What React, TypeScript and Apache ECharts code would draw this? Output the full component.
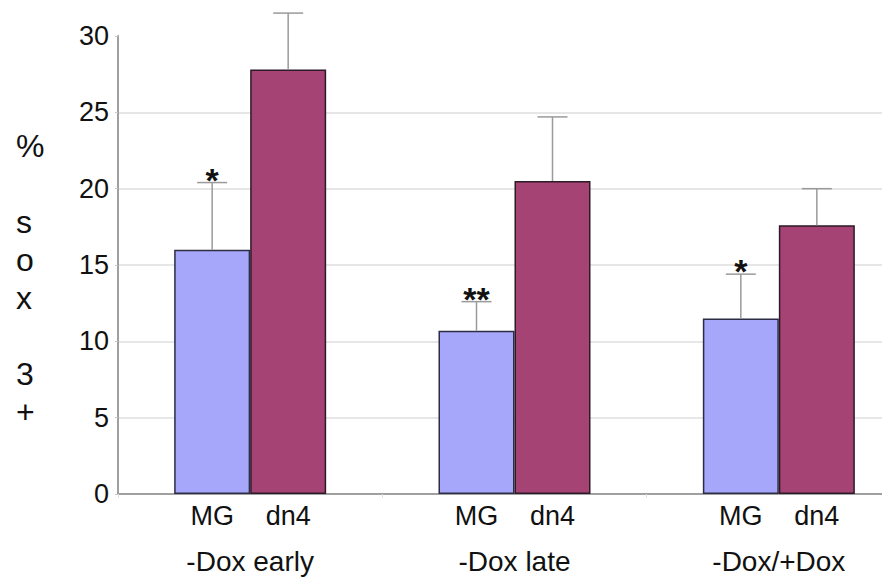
import React, { useEffect, useRef } from "react";
import * as echarts from "echarts";

const groups = ["-Dox early", "-Dox late", "-Dox/+Dox"];
const mgValues = [16.0, 10.7, 11.5];
const mgErrTop = [20.4, 12.6, 14.4];
const dn4Values = [27.8, 20.5, 17.6];
const dn4ErrTop = [31.5, 24.7, 20.0];
const mgSig = ["*", "**", "*"];
const dn4Sig = ["", "", ""];
const yTicks = [0, 5, 10, 15, 20, 25, 30];
const yTitle = "%\n\ns\no\nx\n\n3\n+";

const FONT = "'Liberation Sans', Arial, Helvetica, sans-serif";
const BAR_W = 76;

function errRenderer(offset: number, sigs: string[]) {
  return (params: any, api: any) => {
    const base = api.coord([api.value(0), api.value(1)]);
    const top = api.coord([api.value(0), api.value(2)]);
    const x = base[0] + offset;
    const stroke = { stroke: "#9a9a9a", lineWidth: 1.5 };
    const children: any[] = [
      { type: "line", shape: { x1: x, y1: base[1], x2: x, y2: top[1] }, style: stroke },
      { type: "line", shape: { x1: x - 15, y1: top[1], x2: x + 15, y2: top[1] }, style: stroke },
    ];
    const s = sigs[params.dataIndex];
    if (s) {
      children.push({
        type: "text",
        style: {
          text: s,
          x: x,
          y: top[1] - 3,
          align: "center",
          verticalAlign: "middle",
          font: `bold 34px ${FONT}`,
          fill: "#111",
        },
      });
    }
    return { type: "group", children };
  };
}

export default function App() {
  const ref = useRef<HTMLDivElement>(null);
  useEffect(() => {
    if (!ref.current) return;
    const chart = echarts.init(ref.current, undefined, { renderer: "svg" });
    chart.setOption({
      animation: false,
      backgroundColor: "#ffffff",
      grid: { left: 118, right: 0, top: 36, bottom: 92 },
      xAxis: {
        type: "category",
        data: groups,
        axisLine: { lineStyle: { color: "#a0a0a0", width: 2 } },
        axisTick: { show: true, length: 4, lineStyle: { color: "#e0e0e0" } },
        axisLabel: {
          margin: 53,
          fontSize: 28,
          fontFamily: FONT,
          color: "#111",
        },
        splitLine: { show: false },
      },
      yAxis: {
        type: "value",
        min: yTicks[0],
        max: yTicks[yTicks.length - 1],
        interval: 5,
        axisLine: { show: true, lineStyle: { color: "#a0a0a0", width: 2 } },
        axisTick: { show: true, length: 3, lineStyle: { color: "#c8c8c8" } },
        axisLabel: { margin: 9, fontSize: 27, fontFamily: FONT, color: "#111" },
        splitLine: {
          show: true,
          showMaxLine: false,
          lineStyle: { color: "#e6e6e6", width: 2 },
        },
      },
      graphic: [
        {
          type: "text",
          left: 16,
          top: 127,
          style: {
            text: yTitle,
            font: `32px ${FONT}`,
            lineHeight: 38,
            align: "center",
            fill: "#111",
            width: 28,
          },
        },
      ],
      series: [
        {
          name: "MG",
          type: "bar",
          data: mgValues,
          barWidth: BAR_W,
          barGap: "0%",
          itemStyle: { color: "#a6a6fa", borderColor: "#2c2c44", borderWidth: 1.5 },
          label: {
            show: true,
            position: "bottom",
            distance: 8,
            formatter: "{a}",
            fontSize: 27,
            fontFamily: FONT,
            color: "#111",
          },
        },
        {
          name: "dn4",
          type: "bar",
          data: dn4Values,
          barWidth: BAR_W,
          barGap: "0%",
          itemStyle: { color: "#a54374", borderColor: "#2c1a26", borderWidth: 1.5 },
          label: {
            show: true,
            position: "bottom",
            distance: 8,
            formatter: "{a}",
            fontSize: 27,
            fontFamily: FONT,
            color: "#111",
          },
        },
        {
          type: "custom",
          name: "MG err",
          renderItem: errRenderer(-BAR_W / 2, mgSig),
          data: mgValues.map((v, i) => [i, v, mgErrTop[i]]),
          z: 10,
          clip: false,
        },
        {
          type: "custom",
          name: "dn4 err",
          renderItem: errRenderer(BAR_W / 2, dn4Sig),
          data: dn4Values.map((v, i) => [i, v, dn4ErrTop[i]]),
          z: 10,
          clip: false,
        },
      ],
    });
    return () => chart.dispose();
  }, []);
  return (
    <div style={{ width: 882, height: 586, position: "absolute", left: 0, top: 0, overflow: "hidden", background: "#fff" }}>
      <div ref={ref} style={{ width: 911, height: 586 }} />
    </div>
  );
}
